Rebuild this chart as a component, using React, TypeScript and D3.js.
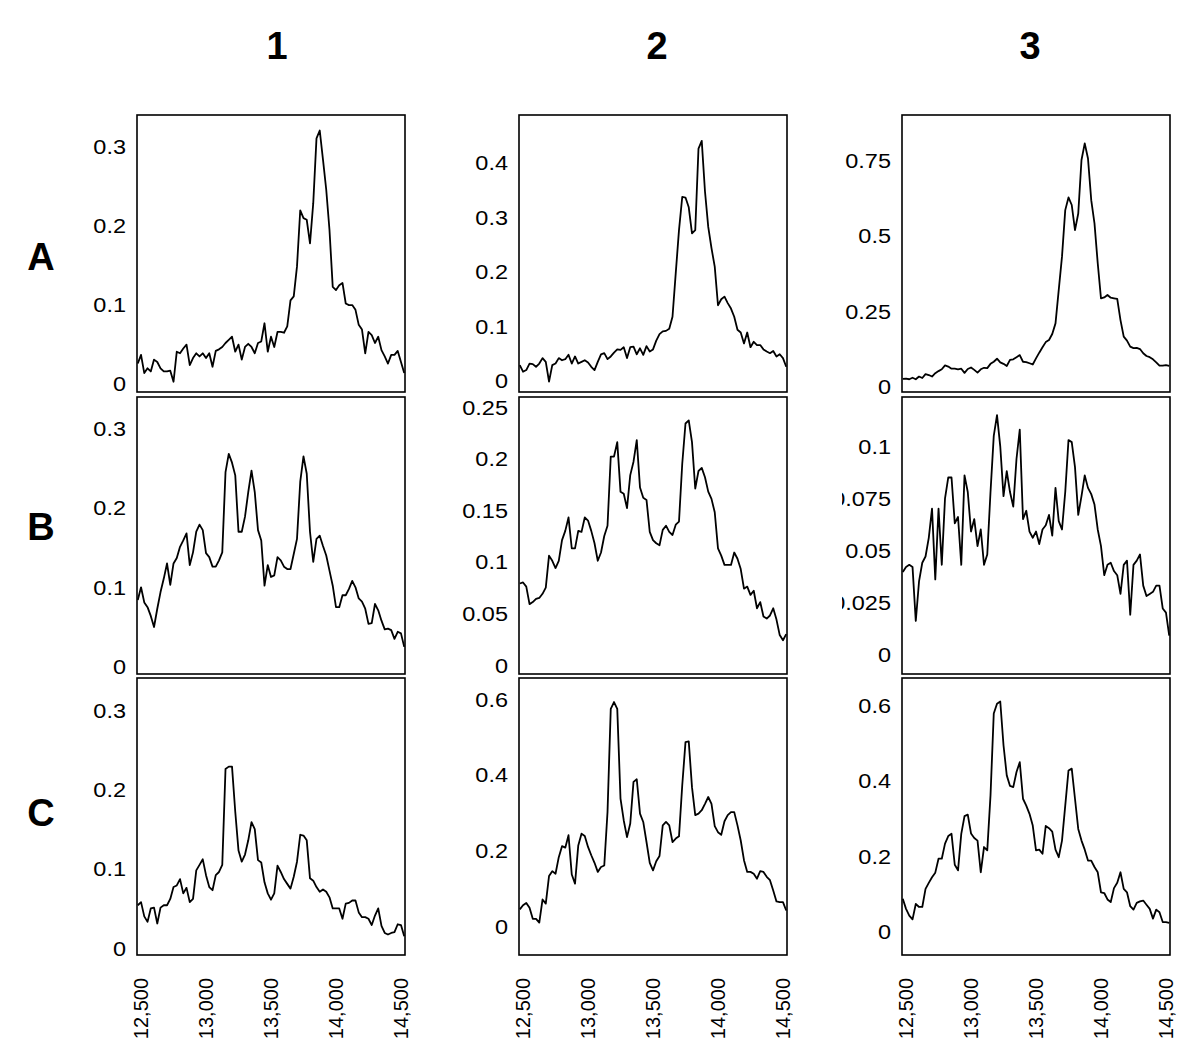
import { useRef, useEffect } from 'react';
import * as d3 from 'd3';

// sample positions (bp), one every 25 bp
const positions = d3.range(12475, 14526, 25);
const xTicks = [12500, 13000, 13500, 14000, 14500];
const colLabels = ['1', '2', '3'];
const rowLabels = ['A', 'B', 'C'];

const a1 = [0.025,0.036,0.013,0.019,0.015,0.030,0.027,0.019,0.015,0.015,
  0.016,0.002,0.040,0.038,0.044,0.049,0.023,0.032,0.038,0.034,
  0.038,0.032,0.038,0.021,0.041,0.043,0.046,0.051,0.055,0.059,
  0.040,0.049,0.030,0.046,0.050,0.046,0.038,0.051,0.053,0.076,
  0.040,0.059,0.046,0.065,0.065,0.064,0.072,0.105,0.110,0.148,
  0.219,0.209,0.207,0.177,0.228,0.310,0.320,0.283,0.245,0.194,
  0.122,0.118,0.124,0.127,0.101,0.099,0.099,0.093,0.074,0.068,
  0.038,0.065,0.061,0.051,0.059,0.042,0.034,0.025,0.036,0.036,
  0.041,0.027,0.013];
const a2 = [0.028,0.016,0.019,0.031,0.030,0.025,0.031,0.041,0.034,-0.002,
  0.028,0.031,0.041,0.037,0.039,0.047,0.031,0.044,0.031,0.034,
  0.037,0.033,0.025,0.019,0.034,0.048,0.050,0.039,0.044,0.051,
  0.057,0.056,0.061,0.041,0.061,0.062,0.048,0.059,0.047,0.063,
  0.053,0.057,0.073,0.085,0.090,0.091,0.095,0.117,0.197,0.276,
  0.337,0.336,0.318,0.270,0.276,0.426,0.440,0.347,0.282,0.243,
  0.209,0.138,0.149,0.154,0.142,0.132,0.117,0.093,0.088,0.068,
  0.088,0.061,0.071,0.065,0.065,0.057,0.053,0.050,0.054,0.044,
  0.048,0.041,0.025];
const a3 = [0.025,0.026,0.024,0.029,0.024,0.033,0.028,0.041,0.038,0.033,
  0.044,0.051,0.057,0.070,0.066,0.059,0.059,0.057,0.059,0.045,
  0.058,0.063,0.055,0.046,0.057,0.062,0.061,0.075,0.082,0.092,
  0.080,0.075,0.068,0.088,0.090,0.097,0.104,0.082,0.081,0.077,
  0.073,0.093,0.112,0.130,0.147,0.154,0.174,0.209,0.320,0.430,
  0.584,0.626,0.601,0.518,0.573,0.750,0.805,0.755,0.617,0.540,
  0.408,0.292,0.295,0.303,0.294,0.292,0.290,0.220,0.165,0.152,
  0.132,0.127,0.128,0.124,0.110,0.101,0.097,0.090,0.080,0.069,
  0.069,0.071,0.068];
const b1 = [0.084,0.100,0.081,0.075,0.064,0.050,0.073,0.094,0.111,0.130,
  0.103,0.130,0.137,0.151,0.159,0.168,0.128,0.144,0.170,0.179,
  0.172,0.143,0.138,0.126,0.126,0.134,0.144,0.245,0.268,0.257,
  0.241,0.170,0.170,0.189,0.220,0.247,0.220,0.172,0.159,0.102,
  0.128,0.113,0.115,0.138,0.134,0.126,0.123,0.123,0.142,0.161,
  0.233,0.265,0.243,0.170,0.132,0.161,0.165,0.152,0.140,0.121,
  0.102,0.075,0.075,0.090,0.090,0.098,0.108,0.100,0.086,0.082,
  0.073,0.054,0.055,0.079,0.071,0.058,0.047,0.048,0.046,0.035,
  0.044,0.042,0.025];
const b2 = [0.079,0.080,0.076,0.059,0.061,0.064,0.065,0.069,0.075,0.106,
  0.101,0.094,0.101,0.121,0.130,0.143,0.113,0.113,0.130,0.129,
  0.143,0.140,0.130,0.118,0.101,0.109,0.125,0.135,0.202,0.202,
  0.216,0.168,0.166,0.152,0.184,0.197,0.218,0.172,0.162,0.160,
  0.129,0.121,0.118,0.116,0.131,0.135,0.129,0.126,0.136,0.139,
  0.195,0.234,0.237,0.216,0.171,0.188,0.191,0.182,0.168,0.161,
  0.148,0.113,0.106,0.097,0.097,0.097,0.109,0.103,0.093,0.074,
  0.076,0.068,0.072,0.055,0.061,0.047,0.045,0.048,0.055,0.044,
  0.029,0.024,0.030];
const b3 = [0.0395,0.042,0.043,0.042,0.016,0.035,0.044,0.047,0.056,0.070,
  0.036,0.070,0.043,0.075,0.085,0.085,0.063,0.066,0.043,0.086,
  0.078,0.059,0.065,0.052,0.060,0.043,0.048,0.078,0.105,0.115,
  0.100,0.076,0.088,0.078,0.071,0.094,0.108,0.065,0.069,0.059,
  0.056,0.059,0.053,0.060,0.062,0.067,0.057,0.080,0.064,0.060,
  0.078,0.103,0.102,0.090,0.067,0.076,0.086,0.080,0.077,0.072,
  0.060,0.052,0.038,0.043,0.044,0.040,0.038,0.029,0.043,0.045,
  0.019,0.043,0.045,0.048,0.033,0.028,0.029,0.030,0.033,0.033,
  0.022,0.020,0.009];
const c1 = [0.054,0.058,0.040,0.033,0.050,0.051,0.031,0.051,0.054,0.054,
  0.062,0.077,0.079,0.087,0.069,0.076,0.058,0.062,0.098,0.105,
  0.112,0.092,0.077,0.073,0.092,0.096,0.105,0.226,0.229,0.229,
  0.172,0.123,0.109,0.118,0.136,0.159,0.150,0.111,0.108,0.083,
  0.069,0.061,0.069,0.104,0.096,0.087,0.081,0.075,0.090,0.109,
  0.143,0.142,0.136,0.088,0.085,0.077,0.071,0.074,0.071,0.064,
  0.050,0.050,0.050,0.037,0.056,0.057,0.060,0.060,0.045,0.039,
  0.039,0.037,0.029,0.041,0.050,0.028,0.019,0.017,0.019,0.020,
  0.030,0.029,0.015];
const c2 = [0.044,0.055,0.061,0.048,0.019,0.019,0.009,0.070,0.059,0.132,
  0.145,0.138,0.182,0.211,0.207,0.240,0.136,0.112,0.213,0.244,
  0.238,0.209,0.187,0.167,0.143,0.156,0.160,0.301,0.574,0.592,
  0.574,0.337,0.279,0.235,0.271,0.381,0.388,0.297,0.275,0.222,
  0.167,0.147,0.171,0.185,0.266,0.275,0.266,0.222,0.231,0.237,
  0.372,0.486,0.488,0.367,0.293,0.297,0.306,0.323,0.341,0.323,
  0.264,0.248,0.241,0.277,0.293,0.301,0.301,0.266,0.226,0.174,
  0.143,0.143,0.138,0.125,0.145,0.143,0.130,0.121,0.094,0.065,
  0.063,0.063,0.041];
const c3 = [0.087,0.060,0.042,0.032,0.073,0.065,0.065,0.113,0.129,0.144,
  0.156,0.193,0.193,0.233,0.253,0.259,0.177,0.162,0.259,0.306,
  0.310,0.260,0.248,0.241,0.157,0.224,0.215,0.361,0.578,0.604,
  0.610,0.494,0.414,0.386,0.383,0.423,0.449,0.352,0.334,0.312,
  0.281,0.215,0.217,0.206,0.280,0.274,0.265,0.217,0.197,0.241,
  0.334,0.427,0.432,0.352,0.272,0.241,0.217,0.188,0.188,0.171,
  0.157,0.104,0.102,0.085,0.078,0.115,0.129,0.157,0.113,0.104,
  0.067,0.058,0.076,0.080,0.082,0.071,0.060,0.034,0.058,0.051,
  0.025,0.025,0.023];

// rows A, B, C; columns 1, 2, 3
const series = [[a1, a2, a3], [b1, b2, b3], [c1, c2, c3]];
const yDomains = [
  [[-0.011, 0.3396], [-0.0213, 0.4876], [-0.0182, 0.899]],
  [[-0.0092, 0.3397], [-0.0087, 0.2597], [-0.0095, 0.1237]],
  [[-0.0088, 0.3409], [-0.0767, 0.6556], [-0.0624, 0.6723]],
];
const yTicks = [
  [[0, 0.1, 0.2, 0.3], [0, 0.1, 0.2, 0.3, 0.4], [0, 0.25, 0.5, 0.75]],
  [[0, 0.1, 0.2, 0.3], [0, 0.05, 0.1, 0.15, 0.2, 0.25], [0, 0.025, 0.05, 0.075, 0.1]],
  [[0, 0.1, 0.2, 0.3], [0, 0.2, 0.4, 0.6], [0, 0.2, 0.4, 0.6]],
];

const FONT = '"Liberation Sans", Arial, Helvetica, sans-serif';

export default function App() {
  const svgRef = useRef<SVGSVGElement>(null);

  useEffect(() => {
    if (!svgRef.current) return;
    const width = 1194;
    const height = 1057;
    const colLeft = [137, 519, 902];
    const colClip = [70, 452, 842];
    const rowTop = [115, 397, 678];
    const pw = 268;
    const ph = 277;

    d3.select(svgRef.current).selectAll('*').remove();
    const svg = d3.select(svgRef.current)
      .attr('width', width)
      .attr('height', height);

    const defs = svg.append('defs');
    colClip.forEach((cx, j) => {
      defs.append('clipPath')
        .attr('id', `col-clip-${j}`)
        .append('rect')
        .attr('x', cx).attr('y', 0)
        .attr('width', 400).attr('height', height);
    });

    // column headers
    colLabels.forEach((t, j) => {
      svg.append('text')
        .attr('x', [277, 657, 1030][j])
        .attr('y', 59)
        .attr('text-anchor', 'middle')
        .style('font-family', FONT)
        .style('font-size', '38px')
        .style('font-weight', 'bold')
        .text(t);
    });

    // row labels
    rowLabels.forEach((t, i) => {
      svg.append('text')
        .attr('x', 41)
        .attr('y', [270, 540, 826][i])
        .attr('text-anchor', 'middle')
        .style('font-family', FONT)
        .style('font-size', '38px')
        .style('font-weight', 'bold')
        .text(t);
    });

    series.forEach((row, i) => {
      row.forEach((vals, j) => {
        const left = colLeft[j];
        const top = rowTop[i];
        const x = d3.scaleLinear().domain([12469, 14531]).range([left, left + pw]);
        const y = d3.scaleLinear().domain(yDomains[i][j]).range([top + ph, top]);

        const g = svg.append('g');

        // y labels (no tick marks), slightly wide glyphs like the original
        g.append('g')
          .attr('clip-path', `url(#col-clip-${j})`)
          .selectAll('text')
          .data(yTicks[i][j])
          .enter()
          .append('text')
          .attr('transform', d => `translate(${left - 11},${y(d)}) scale(1.12,1)`)
          .attr('dy', '0.36em')
          .attr('text-anchor', 'end')
          .style('font-family', FONT)
          .style('font-size', '21px')
          .text(d => String(d));

        const line = d3.line<number>()
          .x((_, k) => x(positions[k]))
          .y(d => y(d));

        g.append('path')
          .datum(vals)
          .attr('fill', 'none')
          .attr('stroke', '#000')
          .attr('stroke-width', 1.8)
          .attr('stroke-linejoin', 'round')
          .attr('d', line);

        g.append('rect')
          .attr('x', left)
          .attr('y', top)
          .attr('width', pw)
          .attr('height', ph)
          .attr('fill', 'none')
          .attr('stroke', '#000')
          .attr('stroke-width', 1.6);

        // x tick labels under bottom row
        if (i === 2) {
          g.selectAll('.xlab')
            .data(xTicks)
            .enter()
            .append('text')
            .attr('transform', d => `translate(${x(d)},978) rotate(-90)`)
            .attr('dy', '0.36em')
            .attr('text-anchor', 'end')
            .style('font-family', FONT)
            .style('font-size', '20px')
            .text(d => d3.format(',')(d));
        }
      });
    });
  }, []);

  return (
    <div style={{ position: 'absolute', left: 0, top: 0 }}>
      <svg ref={svgRef}></svg>
    </div>
  );
}
